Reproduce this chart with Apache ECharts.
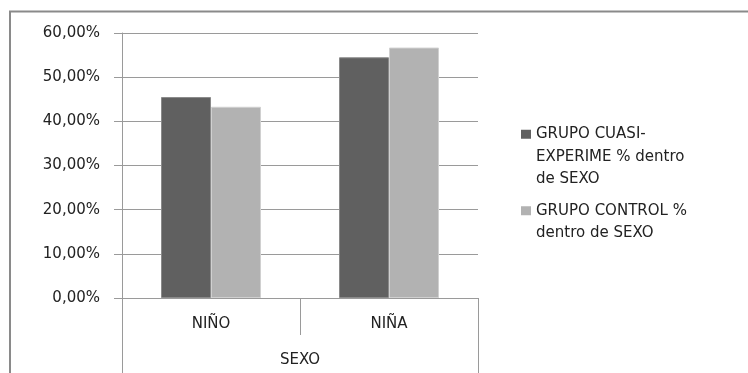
<!DOCTYPE html>
<html>
<head>
<meta charset="utf-8">
<script src="https://cdn.jsdelivr.net/npm/echarts@6/dist/echarts.min.js"></script>
<style>
  html, body { margin: 0; padding: 0; background: #fff; }
  #chart { width: 748px; height: 373px; }
</style>
</head>
<body>
<div id="chart"></div>
<script>
// datos
var categorias = ['NIÑO', 'NIÑA'];
var grupoNivel2 = ['SEXO'];
var serieNombres = ['GRUPO CUASI-EXPERIME % dentro de SEXO', 'GRUPO CONTROL % dentro de SEXO'];
// líneas en blanco delante para que el cuadrito quede a la altura de la primera línea
var serieEtiquetas = ['\n\nGRUPO CUASI-\nEXPERIME % dentro\nde SEXO', '\nGRUPO CONTROL %\ndentro de SEXO'];
var cuasiExperimental = [45.5, 54.5];
var control = [43.3, 56.7];

var colores = ['#606060', '#b2b2b2'];
var fuente = 'DejaVu Sans';
var gris = '#9a9a9a';

var myChart = echarts.init(document.getElementById('chart'));

function fmtPct(v) {
  return v.toFixed(2).replace('.', ',') + '%';
}

var option = {
  backgroundColor: '#fff',
  animation: false,
  textStyle: { fontFamily: fuente },
  graphic: [{
    type: 'rect',
    shape: { x: 10, y: 11.5, width: 760, height: 400 },
    style: { fill: 'none', stroke: '#8a8a8a', lineWidth: 2 },
    silent: true
  }],
  grid: { left: 122, right: 270, top: 33, bottom: 75 },
  legend: [{
    data: [serieNombres[0]],
    left: 516,
    top: 73,
    orient: 'vertical',
    itemWidth: 10,
    itemHeight: 9,
    icon: 'rect',
    itemStyle: { borderWidth: 0 },
    formatter: function () { return serieEtiquetas[0]; },
    textStyle: { fontFamily: fuente, fontSize: 15, color: '#222', lineHeight: 22.5 }
  }, {
    data: [serieNombres[1]],
    left: 516,
    top: 172,
    orient: 'vertical',
    itemWidth: 10,
    itemHeight: 9,
    icon: 'rect',
    itemStyle: { borderWidth: 0 },
    formatter: function () { return serieEtiquetas[1]; },
    textStyle: { fontFamily: fuente, fontSize: 15, color: '#222', lineHeight: 22.5 }
  }],
  xAxis: [{
    type: 'category',
    data: categorias,
    axisLine: { lineStyle: { color: gris, width: 1 } },
    axisTick: { show: true, length: 37, lineStyle: { color: gris } },
    axisLabel: { color: '#222', fontSize: 15, fontFamily: fuente, margin: 19 }
  }, {
    type: 'category',
    data: grupoNivel2,
    position: 'bottom',
    offset: 37,
    axisLine: { show: false },
    axisTick: { show: true, length: 45, lineStyle: { color: gris } },
    axisLabel: { color: '#222', fontSize: 15, fontFamily: fuente, margin: 18 }
  }],
  yAxis: {
    type: 'value',
    min: 0,
    max: 60,
    interval: 10,
    axisLine: { show: true, lineStyle: { color: gris } },
    axisTick: { show: true, length: 8, lineStyle: { color: gris } },
    axisLabel: {
      color: '#222', fontSize: 15, fontFamily: fuente, margin: 22,
      formatter: fmtPct
    },
    splitLine: { lineStyle: { color: gris, width: 1 } }
  },
  series: [{
    name: serieNombres[0],
    type: 'bar',
    data: cuasiExperimental,
    barWidth: 50,
    barGap: '0%',
    itemStyle: { color: colores[0], borderColor: '#8a8a8a', borderWidth: 1 }
  }, {
    name: serieNombres[1],
    type: 'bar',
    data: control,
    barWidth: 50,
    barGap: '0%',
    itemStyle: { color: colores[1], borderColor: '#d0d0d0', borderWidth: 1 }
  }]
};

myChart.setOption(option);
</script>
</body>
</html>
